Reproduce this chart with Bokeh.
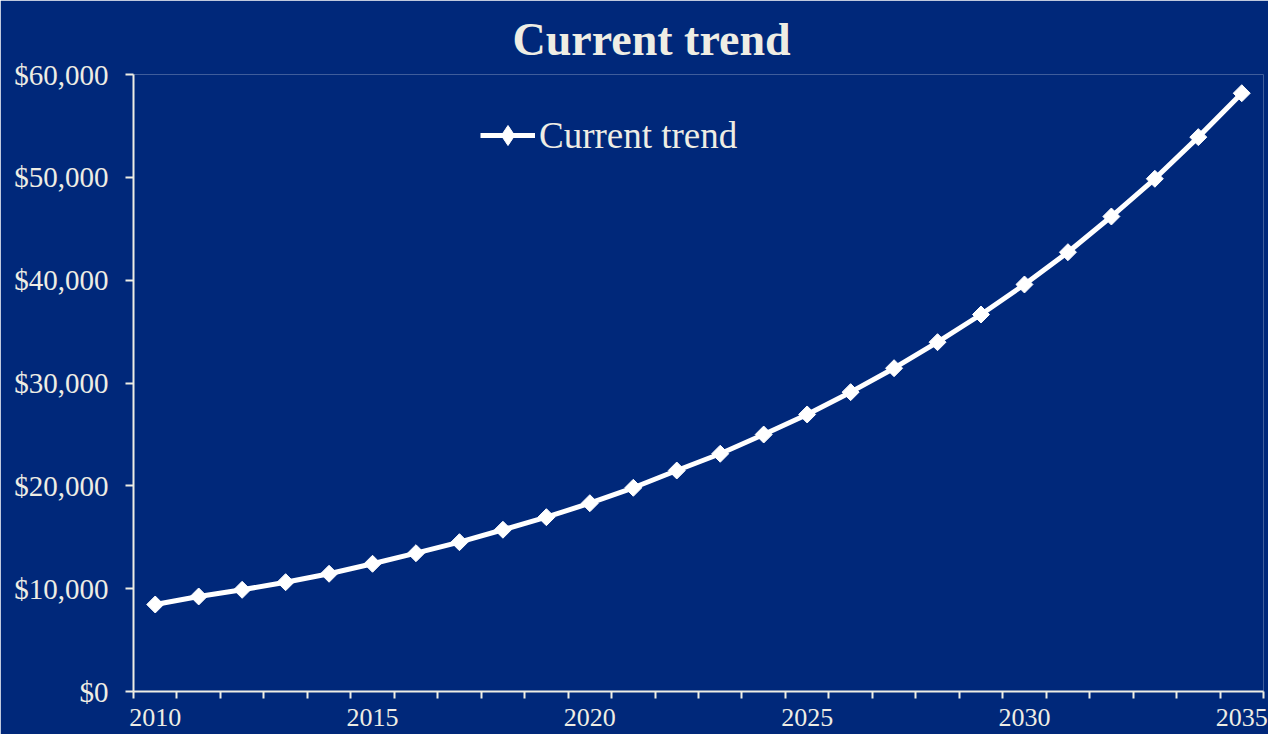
from math import pi
from bokeh.plotting import figure
from bokeh.models import FixedTicker, NumeralTickFormatter, Legend, LegendItem, Range1d
from bokeh.embed import file_html
from bokeh.resources import INLINE

# ---- data ----
years = list(range(2010, 2036))
values = [8460, 9240, 9890, 10630, 11450, 12420, 13450, 14520, 15730, 16950,
          18310, 19810, 21490, 23120, 24990, 26940, 29110, 31440, 33970, 36660,
          39580, 42720, 46190, 49860, 53910, 58180]
x_tick_labels = [2010, 2015, 2020, 2025, 2030, 2035]
y_ticks = [0, 10000, 20000, 30000, 40000, 50000, 60000]
series_name = "Current trend"
title_text = "Current trend"

BG = "#00287A"
FG = "#EEEDE4"
FONT = "Liberation Serif"

p = figure(width=1268, height=734, output_backend="svg", toolbar_location=None,
           x_range=Range1d(years[0] - 0.5, years[-1] + 0.5),
           y_range=Range1d(y_ticks[0], y_ticks[-1]),
           min_border_left=133, min_border_right=5, min_border_top=74, min_border_bottom=43,
           background_fill_color=BG, border_fill_color=BG,
           outline_line_color=None, outline_line_alpha=0)
p.grid.visible = False

p.title.text = title_text
p.title.align = "left"
p.title.offset = 379
p.title.vertical_align = "bottom"
p.title.standoff = 20
p.title.text_font = FONT
p.title.text_font_style = "bold"
p.title.text_font_size = "46px"
p.title.text_color = FG

ln = p.line(years, values, line_color="white", line_width=5)
sc = p.scatter(years, values, marker="square", angle=pi / 4, size=12,
               fill_color="white", line_color="white")
# legend-only diamond glyph (not drawn in the plot)
lg = p.scatter(years, values, marker="diamond", size=20,
               fill_color="white", line_color="white", visible=False)

# x axis: boundary ticks (minor), labels at category centres
xa = p.xaxis[0]
xa.ticker = FixedTicker(ticks=x_tick_labels, minor_ticks=[y - 0.5 for y in years] + [years[-1] + 0.5])
xa.major_tick_out = 0
xa.major_tick_in = 0
xa.minor_tick_out = 7
xa.minor_tick_in = 0
xa.minor_tick_line_color = FG
xa.minor_tick_line_width = 2
xa.axis_line_color = FG
xa.axis_line_width = 2
xa.major_label_text_font = FONT
xa.major_label_text_font_size = "26px"
xa.major_label_text_color = FG
xa.major_label_standoff = 10

ya = p.yaxis[0]
ya.ticker = FixedTicker(ticks=y_ticks, minor_ticks=[])
ya.formatter = NumeralTickFormatter(format="$0,0")
ya.major_tick_out = 8
ya.major_tick_in = 0
ya.major_tick_line_color = FG
ya.major_tick_line_width = 2
ya.minor_tick_out = 0
ya.minor_tick_in = 0
ya.axis_line_color = FG
ya.axis_line_width = 2
ya.major_label_text_font = FONT
ya.major_label_text_font_size = "29px"
ya.major_label_text_color = FG
ya.major_label_standoff = 17

legend = Legend(items=[LegendItem(label=series_name, renderers=[ln, lg])],
                location=(347, 531), border_line_color=None, background_fill_alpha=0,
                label_text_color=FG, label_text_font=FONT, label_text_font_size="37px",
                glyph_width=55, glyph_height=50, padding=0, margin=0, label_standoff=4,
                spacing=0, inactive_fill_alpha=0)
p.add_layout(legend)

open("out.html", "w").write(file_html(p, INLINE))
